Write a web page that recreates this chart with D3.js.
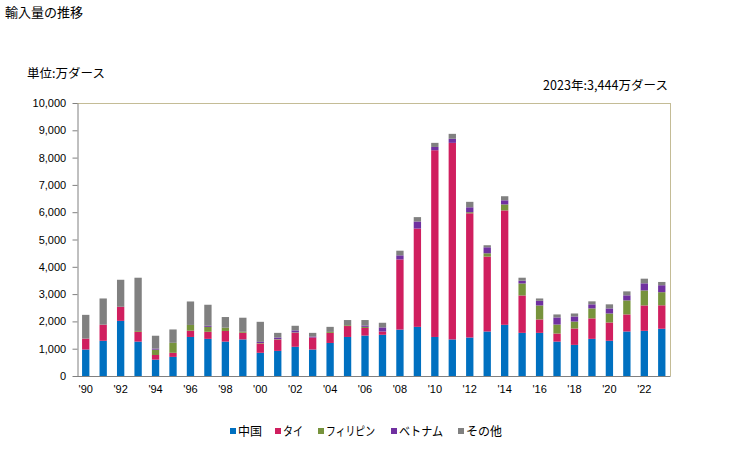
<!DOCTYPE html>
<html><head><meta charset="utf-8">
<script src="https://cdn.jsdelivr.net/npm/d3@7"></script>
<style>
body{margin:0;background:#fff;}
text{font-family:"Liberation Sans","Noto Sans CJK JP",Arial,sans-serif;}
.jp{font-family:"Noto Sans CJK JP","Liberation Sans",sans-serif;}
</style></head>
<body>
<svg id="c" width="729" height="450"></svg>
<script>
const years = d3.range(1990, 2024);
const seriesNames = ["中国","タイ","フィリピン","ベトナム","その他"];
const colors = ["#0070c0","#d01f5f","#77933c","#7030a0","#808080"];
const china   = [970,1290,2020,1260,600,700,1430,1360,1260,1340,850,920,1070,970,1210,1430,1480,1510,1700,1800,1430,1340,1410,1630,1875,1580,1580,1260,1140,1360,1290,1630,1655,1730];
const thai    = [400,590,515,360,170,150,230,260,390,245,340,415,515,440,370,400,280,120,2570,3600,6840,7200,4550,2745,4190,1370,490,295,600,750,670,625,930,860];
const phil    = [0,0,0,30,195,365,210,180,120,35,20,15,15,0,35,30,40,0,0,0,0,0,40,120,220,440,515,330,255,365,330,515,550,480];
const vietnam = [0,0,0,0,40,0,0,40,0,0,40,60,70,35,0,0,50,150,150,260,120,150,180,220,150,100,170,260,185,150,185,185,260,255];
const other   = [870,960,990,1950,470,490,860,770,390,515,735,170,170,135,185,190,200,170,170,160,150,180,200,75,150,110,85,110,110,110,150,145,170,120];
const yTicks = [0,1000,2000,3000,4000,5000,6000,7000,8000,9000,10000];
const title = "輸入量の推移";
const unitLabel = "単位:万ダース";
const note = "2023年:3,444万ダース";

const data = years.map((y,i)=>({year:y, s0:china[i], s1:thai[i], s2:phil[i], s3:vietnam[i], s4:other[i]}));
const keys = ["s0","s1","s2","s3","s4"];
const stack = d3.stack().keys(keys)(data);

const svg = d3.select("#c");
const L=77, R=670.5, T=103, B=376;
const x = d3.scaleBand().domain(years).range([L,R]).paddingInner(0.58).paddingOuter(0.29);
const y = d3.scaleLinear().domain([0,10000]).range([B,T]);

// frame top/right
svg.append("line").attr("x1",L).attr("x2",R).attr("y1",T+0.5).attr("y2",T+0.5).attr("stroke","#c4bc96").attr("stroke-width",1);
svg.append("line").attr("x1",R).attr("x2",R).attr("y1",T).attr("y2",B).attr("stroke","#c4bc96").attr("stroke-width",1);

// bars
svg.append("g").selectAll("g").data(stack).join("g")
  .attr("fill",(d,i)=>colors[i])
  .selectAll("rect").data(d=>d).join("rect")
  .attr("x",d=>x(d.data.year))
  .attr("width",x.bandwidth())
  .attr("y",d=>y(d[1]))
  .attr("height",d=>Math.max(0,y(d[0])-y(d[1])));

// y axis
const ya = svg.append("g").attr("transform",`translate(${L+0.5},0)`)
  .call(d3.axisLeft(y).tickValues(yTicks).tickFormat(d3.format(",")).tickSize(5).tickSizeOuter(0));
ya.select(".domain").attr("stroke","#808080");
ya.selectAll(".tick line").attr("stroke","#808080");
ya.selectAll("text").attr("font-size",11).attr("fill","#000").attr("dx","-0.3em");

// x axis
const xa = svg.append("g").attr("transform",`translate(0,${B+0.5})`)
  .call(d3.axisBottom(x).tickValues(years.filter(d=>d%2===0)).tickFormat(d=>"'"+String(d).slice(2)).tickSize(0).tickSizeOuter(0));
xa.select(".domain").attr("stroke","#808080").attr("d",`M${L},0H${R}`);
xa.selectAll("text").attr("font-size",11).attr("fill","#000").attr("dy","1.2em");

// texts
svg.append("text").attr("class","jp").attr("x",5).attr("y",17).attr("font-size",13).text(title);
svg.append("text").attr("class","jp").attr("x",27).attr("y",78).attr("font-size",12.5).attr("textLength",78).text(unitLabel);
svg.append("text").attr("class","jp").attr("x",543).attr("y",90).attr("font-size",12.5).attr("textLength",125).text(note);

// legend
const legX = [230,275,318,391,458];
const legW = [24,20,49,44,36];
const lg = svg.append("g").selectAll("g").data(seriesNames).join("g")
  .attr("transform",(d,i)=>`translate(${legX[i]},431)`);
lg.append("rect").attr("x",0).attr("y",-3).attr("width",6).attr("height",6).attr("fill",(d,i)=>colors[i]);
lg.append("text").attr("class","jp").attr("x",8).attr("y",5).attr("font-size",12.5)
  .attr("textLength",(d,i)=>legW[i]).attr("lengthAdjust","spacingAndGlyphs").text(d=>d);
</script>
</body></html>
